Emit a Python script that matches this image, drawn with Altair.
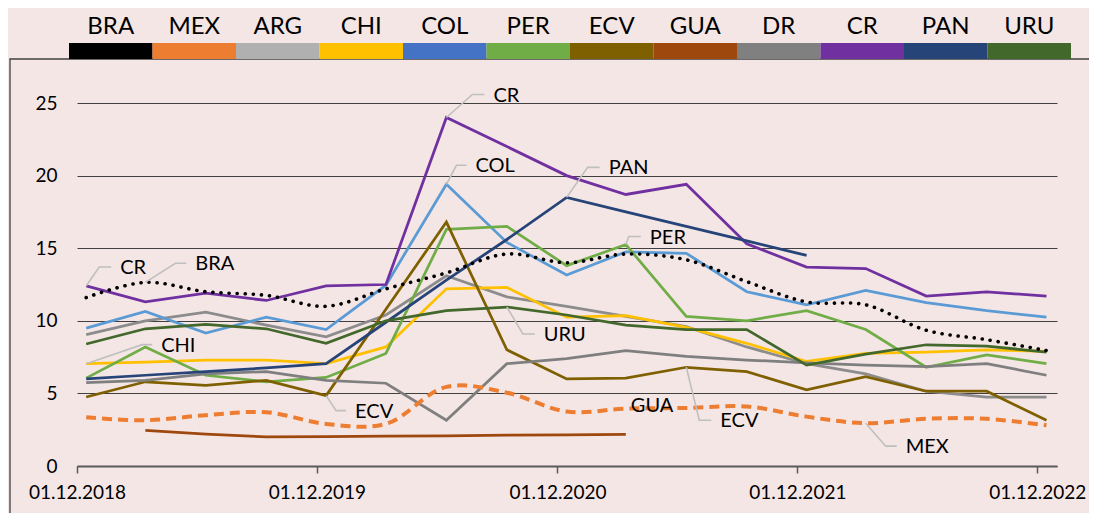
import altair as alt
import pandas as pd

# ---------------- data ----------------
countries = ["BRA", "MEX", "ARG", "CHI", "COL", "PER", "ECV", "GUA", "DR", "CR", "PAN", "URU"]
legend_colors = ["#000000", "#ED7D31", "#B0B0B0", "#FFC000", "#4472C4", "#70AD47",
                 "#7F6000", "#9E480E", "#808080", "#7030A0", "#264478", "#43682B"]

dates = ["2018-12-15", "2019-03-15", "2019-06-15", "2019-09-15", "2019-12-15",
         "2020-03-15", "2020-06-15", "2020-09-15", "2020-12-15", "2021-03-15",
         "2021-06-15", "2021-09-15", "2021-12-15", "2022-03-15", "2022-06-15",
         "2022-09-15", "2022-12-15"]

BRA = [11.6, 12.65, 12.0, 11.75, 11.0, 12.2, 13.3, 14.6, 14.0, 14.6, 14.2, 12.7, 11.3, 11.1, 9.35, 8.7, 7.95]
MEX = [3.35, 3.15, 3.5, 3.7, 2.9, 2.9, 5.45, 5.05, 3.75, 3.95, 4.0, 4.1, 3.4, 2.95, 3.25, 3.25, 2.8]
ARG = [9.05, 10.0, 10.6, 9.7, 8.9, 10.4, 13.1, 11.65, 11.0, 10.3, 9.6, 8.2, 7.05, 6.35, 5.15, 4.75, 4.75]
CHI = [7.05, 7.15, 7.3, 7.3, 7.05, 8.2, 12.2, 12.3, 10.25, 10.35, 9.55, 8.45, 7.2, 7.75, 7.85, 8.0, 7.9]
COL = [9.5, 10.65, 9.15, 10.25, 9.4, 12.45, 19.4, 15.4, 13.15, 14.75, 14.65, 12.0, 11.1, 12.1, 11.25, 10.7, 10.25]
PER = [6.05, 8.2, 6.25, 5.8, 6.1, 7.75, 16.3, 16.5, 13.8, 15.25, 10.3, 10.0, 10.7, 9.4, 6.8, 7.65, 7.05]
ECV = [4.75, 5.8, 5.55, 5.9, 4.85, 10.8, 16.8, 8.0, 6.0, 6.05, 6.8, 6.5, 5.25, 6.15, 5.15, 5.15, 3.15]
GUA = [None, 2.45, 2.2, 2.0, 2.02, 2.05, 2.08, 2.12, 2.15, 2.18, None, None, None, None, None, None, None]
DR = [5.75, 5.9, 6.35, 6.5, 5.9, 5.7, 3.15, 7.05, 7.4, 7.95, 7.55, 7.3, 7.1, 6.95, 6.85, 7.05, 6.25]
CR = [12.4, 11.3, 11.9, 11.4, 12.4, 12.5, 24.0, 22.0, 20.0, 18.7, 19.4, 15.3, 13.7, 13.6, 11.7, 12.0, 11.7]
PAN = [6.0, 6.25, 6.5, 6.75, 7.05, 9.9, 12.8, 15.6, 18.5, 17.5, 16.5, 15.5, 14.5, None, None, None, None]
URU = [8.4, 9.45, 9.75, 9.45, 8.45, 10.0, 10.7, 10.95, 10.4, 9.7, 9.4, 9.4, 6.95, 7.7, 8.35, 8.25, 7.85]

series = {"BRA": BRA, "MEX": MEX, "ARG": ARG, "CHI": CHI, "COL": COL, "PER": PER,
          "ECV": ECV, "GUA": GUA, "DR": DR, "CR": CR, "PAN": PAN, "URU": URU}

year_ticks = [2018, 2019, 2020, 2021, 2022]
y_ticks = [0, 5, 10, 15, 20, 25]

# annotation labels: (text, series, point index, elbow dx px, elbow dy px, segment px, leader?)
annotations = [
    ("CR", "CR", 0, 13, -19, 12, True),
    ("BRA", "BRA", 1, 30, -19, 11, True),
    ("CHI", "CHI", 0, 56, -19, 10, True),
    ("ECV", "ECV", 4, 10, 15, 10, True),
    ("CR", "CR", 6, 26, -23, 12, True),
    ("COL", "COL", 6, 10, -19, 10, True),
    ("PAN", "PAN", 8, 21, -30, 12, True),
    ("PER", "PER", 9, 3, -8, 12, True),
    ("URU", "URU", 7, 16, 27, 12, True),
    ("GUA", "GUA", 9, -4, -29, 0, False),
    ("ECV", "ECV", 10, 13, 53, 12, True),
    ("MEX", "MEX", 13, 20, 23, 11, True),
]

# ---------------- styles ----------------
solid_names = ["ARG", "CHI", "COL", "PER", "ECV", "GUA", "DR", "CR", "PAN", "URU"]
solid_colors = ["#8C8C8C", "#FFC000", "#5B9BD5", "#70AD47", "#7F6000", "#9E480E",
                "#7F7F7F", "#7030A0", "#264478", "#43682B"]
FONT = "Lato"
W, H = 980, 363
X_START = pd.Timestamp("2018-12-01")
X_END = pd.Timestamp("2022-12-31")
days_per_px = (X_END - X_START).days / W
units_per_px = 25 / H


def iso(ts):
    return ts.strftime("%Y-%m-%dT%H:%M:%S")


rows = []
for name, vals in series.items():
    for d, v in zip(dates, vals):
        if v is None:
            continue
        rows.append({"country": name, "t": d + "T00:00:00", "v": v})
df = pd.DataFrame(rows)

lead_rows, text_rows = [], []
for i, (lab, ser, k, ex, ey, seg, leader) in enumerate(annotations):
    t0 = pd.Timestamp(dates[k])
    v0 = series[ser][k]

    def pt(dx, dy):
        return iso(t0 + pd.Timedelta(days=dx * days_per_px)), v0 - dy * units_per_px

    if leader:
        for s, (dx, dy) in enumerate([(0, 0), (ex, ey), (ex + seg, ey)]):
            tt, vv = pt(dx, dy)
            lead_rows.append({"id": i, "seq": s, "t": tt, "v": vv})
        tt, vv = pt(ex + seg + 9, ey + 1)
    else:
        tt, vv = pt(ex + 9, ey + 1)
    text_rows.append({"label": lab, "t": tt, "v": vv})
lead_df = pd.DataFrame(lead_rows)
text_df = pd.DataFrame(text_rows)

xscale = alt.Scale(domain=[alt.DateTime(year=2018, month=12, date=1),
                           alt.DateTime(year=2022, month=12, date=31)], nice=False)
yscale = alt.Scale(domain=[0, 25], nice=False)
xaxis = alt.Axis(values=[alt.DateTime(year=y, month=12, date=1) for y in year_ticks],
                 format="%d.%m.%Y", labelFlush=False, labelOverlap=False, title=None,
                 grid=False, domainColor="#595959", domainWidth=2, tickColor="#595959",
                 tickWidth=1.5, tickSize=7, labelFont=FONT, labelFontSize=19,
                 labelColor="black", labelPadding=10)
yaxis = alt.Axis(values=y_ticks, title=None, domain=False, ticks=False, grid=True,
                 gridColor="#404040", gridWidth=1, labelFont=FONT, labelFontSize=19,
                 labelColor="black", labelPadding=20)

X = alt.X("t:T", scale=xscale, axis=xaxis)
Y = alt.Y("v:Q", scale=yscale, axis=yaxis)

solid = alt.Chart(df[df.country.isin(solid_names)]).mark_line(strokeWidth=2.75).encode(
    x=X, y=Y,
    color=alt.Color("country:N", scale=alt.Scale(domain=solid_names, range=solid_colors), legend=None),
)
mex = alt.Chart(df[df.country == "MEX"]).mark_line(
    color="#ED7D31", strokeWidth=4, strokeDash=[10, 6], interpolate="catmull-rom"
).encode(x=X, y=Y)
bra = alt.Chart(df[df.country == "BRA"]).mark_line(
    color="black", strokeWidth=3.6, strokeDash=[0.1, 8], strokeCap="round", interpolate="catmull-rom"
).encode(x=X, y=Y)
leaders = alt.Chart(lead_df).mark_line(color="#BFBFBF", strokeWidth=1.6).encode(
    x=X, y=Y, detail="id:N", order="seq:Q")
labels = alt.Chart(text_df).mark_text(
    font=FONT, fontSize=20, fontWeight="normal", color="black", align="left", baseline="middle"
).encode(x=X, y=Y, text="label:N")

main = alt.layer(solid, mex, bra, leaders, labels)

leg_df = pd.DataFrame({"country": countries})
LX = alt.X("country:N", sort=countries,
           scale=alt.Scale(range=[-8, 994], paddingInner=0, paddingOuter=0), axis=None)
frame = alt.Chart(alt.Data(values=[{"a": 1}])).mark_rect(
    fill=None, stroke="#404040", strokeWidth=1.3
).encode(x=alt.value(-67), x2=alt.value(1100), y=alt.value(-44), y2=alt.value(600))
leg_bars = alt.Chart(leg_df).mark_rect().encode(
    x=LX, y=alt.value(-60), y2=alt.value(-44),
    color=alt.Color("country:N", scale=alt.Scale(domain=countries, range=legend_colors), legend=None),
)
leg_text = alt.Chart(leg_df).mark_text(
    font=FONT, fontSize=24, fontWeight="normal", color="black", baseline="middle", align="center"
).encode(x=LX, y=alt.value(-76), text="country:N")
legend = alt.layer(frame, leg_bars, leg_text)

chart = alt.layer(legend, main).resolve_scale(x="independent", color="independent").properties(
    width=W, height=H,
    padding={"left": 69, "top": 95, "right": 32, "bottom": 47},
    autosize=alt.AutoSizeParams(type="none"),
    background="#F5E6E6",
).configure_view(stroke=None)

chart.save("out.html", embed_options={"renderer": "svg", "actions": False})
